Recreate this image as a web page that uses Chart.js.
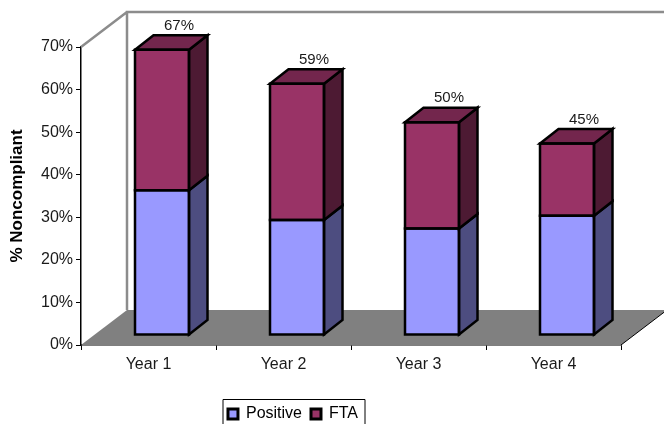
<!DOCTYPE html>
<html>
<head>
<meta charset="utf-8">
<title>% Noncompliant by year</title>
<script src="https://cdn.jsdelivr.net/npm/chart.js@4"></script>
<style>
    html, body { margin: 0; padding: 0; background: #fff; overflow: hidden; }
    #wrap { width: 664px; height: 424px; }
</style>
</head>
<body>
<div id="wrap"><canvas id="complianceChart"></canvas></div>
<script>
const years = ['Year 1', 'Year 2', 'Year 3', 'Year 4'];
const positive = [34, 27, 25, 28];
const fta = [33, 32, 25, 17];
const totalLabels = ['67%', '59%', '50%', '45%'];
const yTicks = [0, 10, 20, 30, 40, 50, 60, 70];

const FONT = '"Liberation Sans", Arial, sans-serif';
const TEXT = '#1a1a1a';

// 3D look: depth of the whole box, and where the bars sit inside it
const BOX_DX = 46, BOX_DY = -35;
const BAR_SHIFT_X = 13.5, BAR_SHIFT_Y = -10;
const BAR_DX = 18.5, BAR_DY = -14.5;
const EDGE = 2.5;

function poly(ctx, pts, fill, stroke, width) {
    ctx.beginPath();
    pts.forEach((p, i) => i ? ctx.lineTo(p[0], p[1]) : ctx.moveTo(p[0], p[1]));
    ctx.closePath();
    if (fill) { ctx.fillStyle = fill; ctx.fill(); }
    if (stroke) { ctx.strokeStyle = stroke; ctx.lineWidth = width; ctx.lineJoin = 'miter'; ctx.stroke(); }
}

const boxPlugin = {
    id: 'box',
    // legend sits under the plot, left of centre
    afterLayout(chart) {
        const legend = chart.legend;
        const w = legend.right - legend.left;
        legend.left = 293 - w / 2;
        legend.right = 293 + w / 2;
        legend.top = 397;
    },
    // back wall and floor, behind the bars
    beforeDatasetsDraw(chart) {
        const { ctx, chartArea: a } = chart;
        const bx = a.left + BOX_DX, by = a.bottom + BOX_DY, ty = a.top + BOX_DY;
        ctx.save();
        ctx.strokeStyle = '#8c8c8c';
        ctx.lineWidth = 2.5;
        ctx.beginPath();
        ctx.moveTo(bx, by);
        ctx.lineTo(bx, ty);
        ctx.lineTo(a.right + BOX_DX, ty);
        ctx.moveTo(bx, ty);
        ctx.lineTo(a.left, a.top);
        ctx.stroke();
        poly(ctx, [[a.left, a.bottom], [a.right, a.bottom], [a.right + BOX_DX, by], [bx, by]], '#808080');
        // floor edge on the right side
        ctx.strokeStyle = '#000';
        ctx.lineWidth = 1;
        ctx.beginPath();
        ctx.moveTo(a.right, a.bottom);
        ctx.lineTo(a.right + BOX_DX, by);
        ctx.stroke();
        ctx.restore();
    },
    // every bar is drawn a little way into the box
    beforeDatasetDraw(chart) {
        chart.ctx.save();
        chart.ctx.translate(BAR_SHIFT_X, BAR_SHIFT_Y);
    },
    afterDatasetDraw(chart) {
        chart.ctx.restore();
    },
    afterDatasetsDraw(chart) {
        const { ctx, scales } = chart;
        const sideColors = ['#4d4d80', '#4d1a33'];
        const last = chart.data.datasets.length - 1;
        ctx.save();
        ctx.translate(BAR_SHIFT_X, BAR_SHIFT_Y);
        chart.data.datasets.forEach((ds, di) => {
            chart.getDatasetMeta(di).data.forEach(bar => {
                const left = bar.x - bar.width / 2, right = bar.x + bar.width / 2;
                const top = bar.y, base = bar.base;
                poly(ctx, [[right, base], [right + BAR_DX, base + BAR_DY], [right + BAR_DX, top + BAR_DY], [right, top]],
                    sideColors[di], '#000', EDGE);
                if (di === last) {
                    poly(ctx, [[left, top], [right, top], [right + BAR_DX, top + BAR_DY], [left + BAR_DX, top + BAR_DY]],
                        '#73264d', '#000', EDGE);
                }
                // front outline, shared edge between the two segments
                poly(ctx, [[left, top], [right, top], [right, base], [left, base]], null, '#000', EDGE);
            });
        });
        ctx.restore();

        // stack totals above the top face
        ctx.save();
        ctx.font = '15px ' + FONT;
        ctx.fillStyle = TEXT;
        ctx.textAlign = 'center';
        ctx.textBaseline = 'middle';
        years.forEach((y, i) => {
            const top = scales.y.getPixelForValue(positive[i] + fta[i]) + BAR_SHIFT_Y;
            const cx = scales.x.getPixelForValue(i) + BAR_SHIFT_X + 17;
            ctx.fillText(totalLabels[i], cx, top - 24);
        });
        ctx.restore();
    },
    // frame around the legend, open at the page edge
    afterDraw(chart) {
        const ctx = chart.ctx;
        ctx.save();
        ctx.strokeStyle = '#000';
        ctx.lineWidth = 1;
        ctx.beginPath();
        ctx.moveTo(223, 425);
        ctx.lineTo(223, 399.5);
        ctx.lineTo(365, 399.5);
        ctx.lineTo(365, 425);
        ctx.stroke();
        ctx.restore();
    }
};

new Chart(document.getElementById('complianceChart'), {
    type: 'bar',
    data: {
        labels: years,
        datasets: [
            { label: 'Positive', data: positive, backgroundColor: '#9999ff', borderWidth: 0 },
            { label: 'FTA', data: fta, backgroundColor: '#993366', borderWidth: 0 }
        ]
    },
    options: {
        responsive: true,
        maintainAspectRatio: false,
        animation: false,
        layout: { padding: { top: 47, right: 43, bottom: 0, left: 0 } },
        datasets: { bar: { categoryPercentage: 0.4, barPercentage: 1 } },
        scales: {
            x: {
                stacked: true,
                grid: { offset: true, drawOnChartArea: false, tickLength: 5, tickColor: '#000' },
                border: { color: '#000', width: 1.5 },
                ticks: { color: TEXT, font: { family: FONT, size: 16 }, maxRotation: 0, padding: 5 },
                afterFit(scale) { scale.height = 44; }
            },
            y: {
                stacked: true,
                min: 0,
                max: 70,
                afterBuildTicks(scale) { scale.ticks = yTicks.map(v => ({ value: v })); },
                grid: { drawOnChartArea: false, tickLength: 5, tickColor: '#000' },
                border: { color: '#000', width: 1.5 },
                ticks: { color: TEXT, font: { family: FONT, size: 16 }, padding: 3, callback: v => v + '%' },
                title: { display: true, text: '% Noncompliant', color: '#000', font: { family: FONT, size: 17, weight: 'bold' }, padding: { top: 7, bottom: 0 } },
                afterFit(scale) { scale.width = 81; }
            }
        },
        plugins: {
            tooltip: { enabled: false },
            legend: {
                position: 'bottom',
                labels: {
                    color: '#000',
                    font: { family: FONT, size: 16 },
                    boxWidth: 10,
                    boxHeight: 10,
                    padding: 9,
                    generateLabels(chart) {
                        return Chart.defaults.plugins.legend.labels.generateLabels(chart).map(item => {
                            item.strokeStyle = '#000';
                            item.lineWidth = 3;
                            return item;
                        });
                    }
                }
            }
        }
    },
    plugins: [boxPlugin]
});
</script>
</body>
</html>
